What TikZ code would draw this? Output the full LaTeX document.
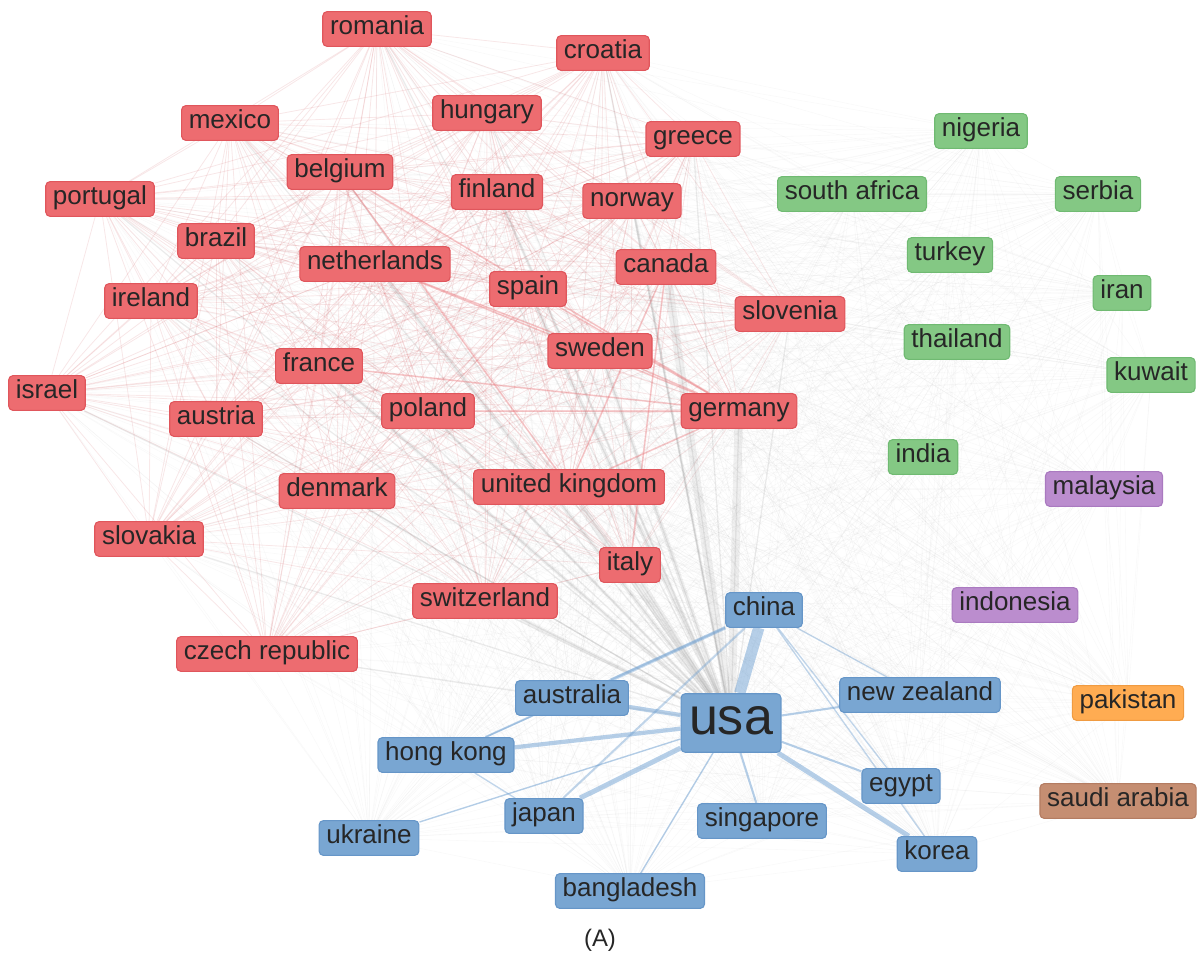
\documentclass[tikz,border=0pt]{standalone}
\usepackage{fontspec}
\setmainfont{Liberation Sans}
\usetikzlibrary{positioning}
\pgfdeclarelayer{bg}
\pgfsetlayers{bg,main}
\definecolor{redfill}{RGB}{237,108,112}
\definecolor{reddraw}{RGB}{224,86,92}
\definecolor{greenfill}{RGB}{132,200,132}
\definecolor{greendraw}{RGB}{112,186,114}
\definecolor{bluefill}{RGB}{121,166,210}
\definecolor{bluedraw}{RGB}{102,150,200}
\definecolor{purplefill}{RGB}{187,141,206}
\definecolor{purpledraw}{RGB}{170,122,192}
\definecolor{orangefill}{RGB}{255,172,82}
\definecolor{orangedraw}{RGB}{240,155,65}
\definecolor{brownfill}{RGB}{197,142,114}
\definecolor{browndraw}{RGB}{180,124,98}
\definecolor{linkred}{RGB}{236,110,115}
\definecolor{linkblue}{RGB}{110,160,210}
\tikzset{
  country/.style={rounded corners=3pt,thick,minimum height=0.85cm,inner xsep=0.18cm,
    text height=13pt,text depth=5pt,font=\fontsize{18.5}{20}\selectfont,text=black!85},
  rednode/.style={country,fill=redfill,draw=reddraw},
  greennode/.style={country,fill=greenfill,draw=greendraw},
  bluenode/.style={country,fill=bluefill,draw=bluedraw},
  purplenode/.style={country,fill=purplefill,draw=purpledraw},
  faintlink/.style={draw=gray,opacity=0.05,line width=0.4pt},
  redlink/.style={draw=linkred,opacity=0.13,line width=0.6pt},
  greylink/.style={draw=gray,opacity=0.12},
  bluelink/.style={draw=linkblue,opacity=0.5}
}
\newcommand{\redlist}{rom,cro,mex,hun,gre,bel,fin,nor,por,bra,net,spa,can,slo,ire,swe,fra,isr,aut,pol,ger,uk,den,svk,ita,swi,cze}
\newcommand{\alllist}{rom,cro,mex,hun,gre,bel,fin,nor,por,bra,net,spa,can,slo,ire,swe,fra,isr,aut,pol,ger,uk,den,svk,ita,swi,cze,nig,saf,ser,tur,ira,tha,kuw,ind,mal,ido,chi,aus,usa,nzl,hkg,egy,jap,sgp,ukr,kor,ban,pak,sau}
\begin{document}
\begin{tikzpicture}[x=0.025cm,y=-0.025cm]
\useasboundingbox (0,0) rectangle (1203,956);
% red cluster
\node (rom) [rednode] at (377,29) {romania};
\node (cro) [rednode] at (603,53) {croatia};
\node (mex) [rednode] at (230,123) {mexico};
\node (hun) [rednode] at (487,113) {hungary};
\node (gre) [rednode] at (693,139) {greece};
\node (bel) [rednode] at (340,172) {belgium};
\node (fin) [rednode] at (497,192) {finland};
\node (nor) [rednode] at (632,201) {norway};
\node (por) [rednode] at (100,199) {portugal};
\node (bra) [rednode] at (216,241) {brazil};
\node (net) [rednode] at (375,264) {netherlands};
\node (spa) [rednode] at (528,289) {spain};
\node (can) [rednode] at (666,267) {canada};
\node (slo) [rednode] at (790,314) {slovenia};
\node (ire) [rednode] at (151,301) {ireland};
\node (swe) [rednode] at (600,351) {sweden};
\node (fra) [rednode] at (319,366) {france};
\node (isr) [rednode] at (47,393) {israel};
\node (aut) [rednode] at (216,419) {austria};
\node (pol) [rednode] at (428,411) {poland};
\node (ger) [rednode] at (739,411) {germany};
\node (uk)  [rednode] at (569,487) {united kingdom};
\node (den) [rednode] at (337,491) {denmark};
\node (svk) [rednode] at (149,539) {slovakia};
\node (ita) [rednode] at (630,565) {italy};
\node (swi) [rednode] at (485,601) {switzerland};
\node (cze) [rednode] at (267,654) {czech republic};
% green cluster
\node (nig) [greennode] at (981,131) {nigeria};
\node (saf) [greennode] at (852,194) {south africa};
\node (ser) [greennode] at (1098,194) {serbia};
\node (tur) [greennode] at (950,255) {turkey};
\node (ira) [greennode] at (1122,293) {iran};
\node (tha) [greennode] at (957,342) {thailand};
\node (kuw) [greennode] at (1151,375) {kuwait};
\node (ind) [greennode] at (923,457) {india};
% purple cluster
\node (mal) [purplenode] at (1104,489) {malaysia};
\node (ido) [purplenode] at (1015,605) {indonesia};
% blue cluster
\node (chi) [bluenode] at (764,610) {china};
\node (aus) [bluenode] at (572,698) {australia};
\node (usa) [bluenode,minimum height=1.45cm,inner xsep=0.2cm,text height=26pt,text depth=9pt,font=\fontsize{37}{40}\selectfont] at (731,723) {usa};
\node (nzl) [bluenode] at (920,695) {new zealand};
\node (hkg) [bluenode] at (446,755) {hong kong};
\node (egy) [bluenode] at (901,786) {egypt};
\node (jap) [bluenode] at (544,816) {japan};
\node (sgp) [bluenode] at (762,821) {singapore};
\node (ukr) [bluenode] at (369,838) {ukraine};
\node (kor) [bluenode] at (937,854) {korea};
\node (ban) [bluenode] at (630,891) {bangladesh};
% singles
\node (pak) [country,fill=orangefill,draw=orangedraw] at (1128,703) {pakistan};
\node (sau) [country,fill=brownfill,draw=browndraw] at (1118,801) {saudi arabia};
\node (cap) [font=\fontsize{17}{19}\selectfont,text=black!85] at (600,940) {(A)};
%
\begin{pgfonlayer}{bg}
\foreach \a [count=\i] in \alllist {
  \foreach \b [count=\j] in \alllist {
    \ifnum\j>\i \path[faintlink] (\a) -- (\b); \fi
  }
}
\foreach \a [count=\i] in \redlist {
  \foreach \b [count=\j] in \redlist {
    \ifnum\j>\i \path[redlink] (\a) -- (\b); \fi
  }
}
\foreach \a in \redlist {\path[greylink,line width=1pt] (\a) -- (usa);}
\foreach \a/\w in {can/6,ger/6,uk/4,ita/4,spa/3,swe/3,net/3,fra/2.5,swi/2.5,nor/2,pol/2,fin/2}
  {\path[greylink,line width=\w pt] (\a) -- (usa);}
\foreach \a/\b in {net/ger,bel/ger,fra/ger,ger/uk,can/uk,spa/ger,net/swe,bel/uk,swe/ger,pol/ger,can/ita}
  {\path[redlink,opacity=0.3,line width=1.2pt] (\a) -- (\b);}
\foreach \a/\w in {chi/8,kor/3.5,jap/3.5,hkg/3,aus/3,egy/1.5,nzl/1.5,sgp/1.5,ban/1,ukr/1}
  {\path[bluelink,line width=\w pt] (usa) -- (\a);}
\foreach \a/\b/\w in {chi/aus/2.5,chi/hkg/1.5,chi/jap/1.5,chi/kor/1,chi/nzl/1,aus/hkg/1,jap/hkg/1,chi/egy/1}
  {\path[bluelink,opacity=0.4,line width=\w pt] (\a) -- (\b);}
\end{pgfonlayer}
\end{tikzpicture}
\end{document}
